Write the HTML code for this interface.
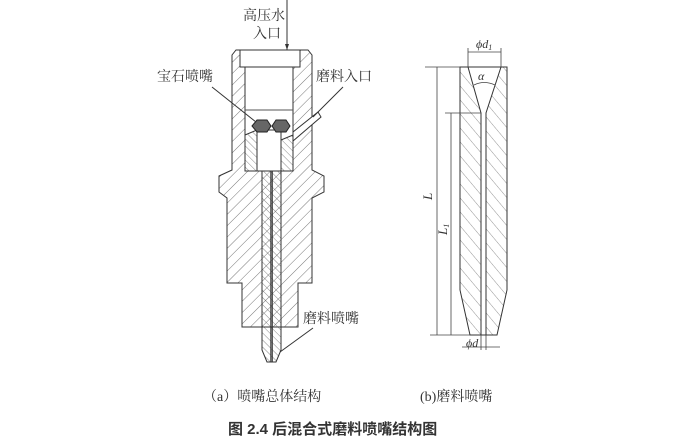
<!DOCTYPE html>
<html><head><meta charset="utf-8"><style>
html,body{margin:0;padding:0;background:#fff;width:681px;height:442px;overflow:hidden}
text{font-family:"Liberation Serif","Noto Serif CJK SC",serif;fill:#333}
</style></head><body>
<svg width="681" height="442" viewBox="0 0 681 442" xmlns="http://www.w3.org/2000/svg">
<defs>
<pattern id="h1" patternUnits="userSpaceOnUse" width="8" height="8" patternTransform="rotate(45)">
<line x1="0" y1="0" x2="0" y2="8" stroke="#555" stroke-width="0.8"/></pattern>
<pattern id="h2" patternUnits="userSpaceOnUse" width="5" height="5" patternTransform="rotate(-45)">
<line x1="0" y1="0" x2="0" y2="5" stroke="#555" stroke-width="0.7"/></pattern>
<pattern id="h3" patternUnits="userSpaceOnUse" width="9" height="9" patternTransform="rotate(-40)">
<line x1="0" y1="0" x2="0" y2="9" stroke="#666" stroke-width="0.7"/></pattern>
</defs>
<g stroke="#333" stroke-width="1" fill="url(#h1)">
<!-- body outline -->
<path d="M236,50 L308,50 L312,55 L312,170 L324,176 L324,192 L312,198 L312,283 L298,283 L298,327 L242,327 L242,283 L227,283 L227,198 L219,192 L219,176 L232,170 L232,55 Z"/>
</g>
<!-- inner cavities white -->
<g stroke="#333" stroke-width="1" fill="#fff">
<rect x="240" y="50" width="60" height="17"/>
<rect x="245" y="67" width="48" height="104"/>
<rect x="257" y="130" width="24" height="41"/>
</g>
<line x1="245" y1="110" x2="293" y2="110" stroke="#555"/>
<!-- hatched inner walls lower cavity -->
<path d="M245,135 L257,130 L257,171 L245,171 Z" fill="url(#h2)" stroke="#333"/>
<path d="M281,140 L293,135 L293,171 L281,171 Z" fill="url(#h2)" stroke="#333"/>
<!-- abrasive inlet channel -->
<path d="M293,132 L318,112 L321,117 L293,141 Z" fill="#fff" stroke="#333"/>
<!-- jewel -->
<polygon points="252,126 257,120 267,120 271,126 267,132 257,132" fill="#666" stroke="#222"/>
<polygon points="272,126 276,120 286,120 290,126 286,132 276,132" fill="#666" stroke="#222"/>
<!-- nozzle tube -->
<path d="M262,171 L281,171 L281,350 L276,362 L267,362 L262,350 Z" fill="url(#h2)" stroke="#333"/>
<line x1="271" y1="171" x2="271" y2="362" stroke="#333" stroke-width="1.4"/>
<line x1="272.5" y1="171" x2="272.5" y2="362" stroke="#333" stroke-width="0.8"/>
<!-- labels a -->
<line x1="287" y1="0" x2="287" y2="50" stroke="#333"/>
<polygon points="285,44 289,44 287,50" fill="#333"/>
<text x="243" y="20" font-size="14">高压水</text>
<text x="253" y="38" font-size="14">入口</text>
<text x="157" y="81" font-size="14">宝石喷嘴</text>
<line x1="212" y1="87" x2="256" y2="122" stroke="#333"/>
<text x="316" y="81" font-size="14">磨料入口</text>
<line x1="343" y1="87" x2="313" y2="117" stroke="#333"/>
<text x="303" y="323" font-size="14">磨料喷嘴</text>
<line x1="313" y1="328" x2="280" y2="352" stroke="#333"/>
<!-- part b -->
<path d="M460,67 L507,67 L507,290 L497,335 L470,335 L460,290 Z" fill="url(#h3)" stroke="#333"/>
<path d="M468,67 L501,67 L486,113 L486,335 L481,335 L481,113 Z" fill="#fff" stroke="#333"/>
<line x1="460" y1="290" x2="507" y2="290" stroke="none"/>
<g stroke="#444" stroke-width="0.8" fill="none">
<line x1="425" y1="67" x2="460" y2="67"/>
<line x1="430" y1="335" x2="470" y2="335"/>
<line x1="437" y1="67" x2="437" y2="335"/>
<line x1="445" y1="113" x2="481" y2="113"/>
<line x1="451" y1="113" x2="451" y2="335"/>
<line x1="468" y1="67" x2="468" y2="48"/>
<line x1="501" y1="67" x2="501" y2="48"/>
<line x1="468" y1="52" x2="501" y2="52"/>
<path d="M474,85 Q484,80 495,85"/>
<line x1="481" y1="335" x2="481" y2="350"/>
<line x1="486" y1="335" x2="486" y2="350"/>
<line x1="462" y1="347" x2="500" y2="347"/>
</g>
<text x="476" y="48" font-size="12" font-style="italic">ϕd<tspan font-size="8" dy="2">1</tspan></text>
<text x="478" y="80" font-size="12" font-style="italic">α</text>
<text x="432" y="200" font-size="13" font-style="italic" transform="rotate(-90 432 200)">L</text>
<text x="447" y="235" font-size="13" font-style="italic" transform="rotate(-90 447 235)">L<tspan font-size="8" dy="2">1</tspan></text>
<text x="466" y="347" font-size="12" font-style="italic">ϕd</text>
<!-- captions -->
<text x="203" y="401" font-size="14">（a）喷嘴总体结构</text>
<text x="420" y="401" font-size="14">(b)磨料喷嘴</text>
<text x="228" y="434" font-size="15" font-weight="bold" style="font-family:'Liberation Sans','Noto Sans CJK SC',sans-serif" fill="#111">图 2.4  后混合式磨料喷嘴结构图</text>
</svg>
</body></html>
